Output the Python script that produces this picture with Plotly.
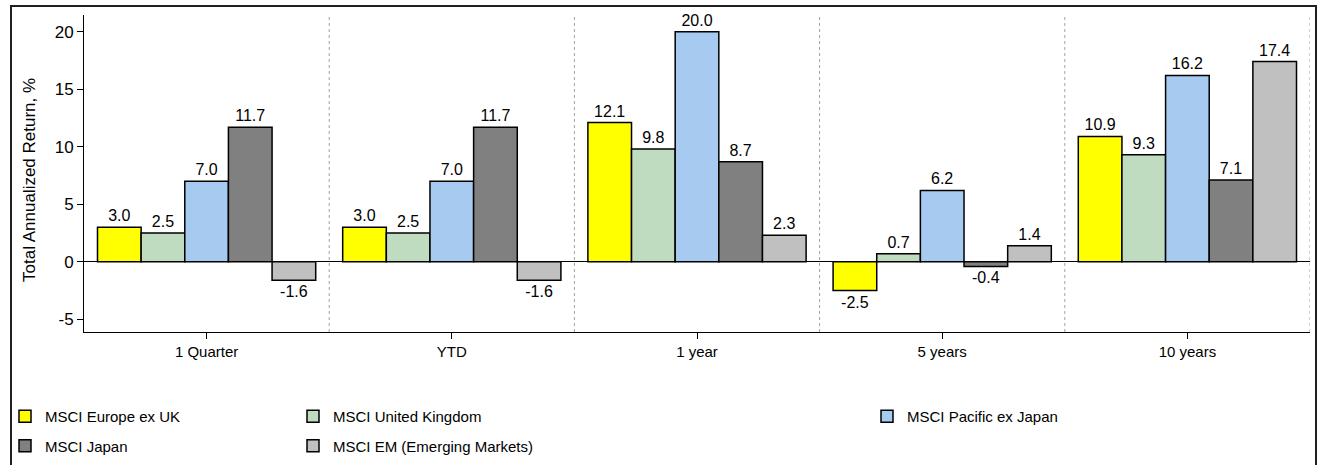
import plotly.graph_objects as go

categories = ["1 Quarter", "YTD", "1 year", "5 years", "10 years"]
series_names = ["MSCI Europe ex UK", "MSCI United Kingdom", "MSCI Pacific ex Japan",
                "MSCI Japan", "MSCI EM (Emerging Markets)"]
europe_ex_uk = [3.0, 3.0, 12.1, -2.5, 10.9]
united_kingdom = [2.5, 2.5, 9.8, 0.7, 9.3]
pacific_ex_japan = [7.0, 7.0, 20.0, 6.2, 16.2]
japan = [11.7, 11.7, 8.7, -0.4, 7.1]
emerging = [-1.6, -1.6, 2.3, 1.4, 17.4]
y_ticks = [-5, 0, 5, 10, 15, 20]
y_tick_labels = ["-5", "0", "5", "10", "15", "20"]
y_title = "Total Annualized Return, %"

colors = ["#FFFF00", "#C0DCC0", "#A6CAF0", "#808080", "#C0C0C0"]
values = [europe_ex_uk, united_kingdom, pacific_ex_japan, japan, emerging]
legend_ids = ["legend", "legend2", "legend3", "legend", "legend2"]

FONT = "Liberation Sans Narrow, Arial Narrow, Liberation Sans, Arial, sans-serif"

fig = go.Figure()
for name, vals, col, lg in zip(series_names, values, colors, legend_ids):
    fig.add_trace(go.Bar(
        x=categories, y=vals, name=name, legend=lg, legendgroup=name,
        marker=dict(color=col, line=dict(color="black", width=1.5)),
        text=[f"{v:.1f}" for v in vals], textposition="outside",
        textfont=dict(family=FONT, size=16, color="black"),
        cliponaxis=False,
    ))

W, H = 1319, 465
L, R, T, B = 84, 9, 15, 133
pw, ph = W - L - R, H - T - B

def px_x(x):
    return (x - L) / pw

def px_y(y):
    return (H - B - y) / ph

shapes = []
for i in range(len(categories)):
    shapes.append(dict(type="line", xref="x", yref="paper", x0=i + 0.5, x1=i + 0.5,
                       y0=0, y1=1, line=dict(color="#A0A0A0", width=1, dash="dot"), layer="below"))
shapes.append(dict(type="rect", xref="paper", yref="paper",
                   x0=px_x(11), x1=px_x(1316), y0=px_y(475), y1=px_y(6),
                   line=dict(color="#202020", width=2), fillcolor="rgba(0,0,0,0)"))

leg_common = dict(orientation="v", yanchor="top", xanchor="left",
                  xref="container", yref="container", bgcolor="rgba(0,0,0,0)",
                  font=dict(family=FONT, size=15, color="black"), tracegroupgap=7,
                  itemclick=False)
leg_top = 1 - 400 / H
fig.update_layout(
    width=W, height=H,
    margin=dict(l=L, r=R, t=T, b=B, autoexpand=False),
    paper_bgcolor="white", plot_bgcolor="white",
    barmode="group", bargap=0.11, bargroupgap=0,
    font=dict(family=FONT, size=15, color="black"),
    shapes=shapes,
    annotations=[dict(text=y_title, textangle=-90, xref="paper", yref="paper",
                      x=px_x(29), y=px_y(180), xanchor="center", yanchor="middle",
                      showarrow=False, font=dict(family=FONT, size=17, color="black"))],
    legend=dict(x=5 / W, y=leg_top, **leg_common),
    legend2=dict(x=293 / W, y=leg_top, **leg_common),
    legend3=dict(x=867 / W, y=leg_top, **leg_common),
    xaxis=dict(range=[-0.5, 4.5], showline=True, linecolor="black", linewidth=1,
               ticks="outside", ticklen=6, tickcolor="black", showgrid=False,
               automargin=False,
               tickfont=dict(family=FONT, size=15, color="black")),
    yaxis=dict(range=[-6.1, 21.45], tickvals=y_ticks, ticktext=y_tick_labels,
               showline=True, linecolor="black",
               linewidth=1, ticks="outside", ticklen=6, tickcolor="black", showgrid=False,
               zeroline=True, zerolinecolor="black", zerolinewidth=1, automargin=False,
               tickfont=dict(family=FONT, size=17, color="black")),
)

fig.write_html("out.html")
